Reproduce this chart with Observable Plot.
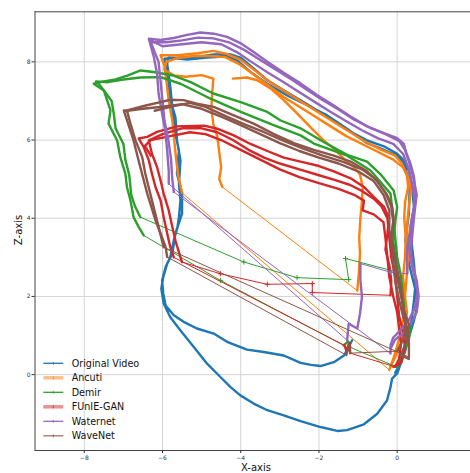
<!DOCTYPE html>
<html><head><meta charset="utf-8">
<script src="https://cdn.jsdelivr.net/npm/d3@7"></script>
<script src="https://cdn.jsdelivr.net/npm/@observablehq/plot@0.6"></script>
<style>body{margin:0;background:#fff;}</style>
</head><body><div id="chart"></div>
<script>
const seriesNames = ["Original Video","Ancuti","Demir","FUnIE-GAN","Waternet","WaveNet"];
const seriesColors = ["#1f77b4","#ff7f0e","#2ca02c","#d62728","#9467bd","#8c564b"];
const xTicks = [-8,-6,-4,-2,0];
const zTicks = [0,2,4,6,8];
const xLimits = [-9.26, 1.875];
const zLimits = [-1.94, 9.28];

// each track: list of densely sampled runs [x, z]; consecutive runs joined by sparse samples
const originalVideo = [[
 [-1.15,0.88],[-1.36,0.49],[-1.62,0.32],[-1.96,0.22],[-2.2,0.25],[-2.47,0.30],[-2.9,0.49],[-3.41,0.58],[-3.84,0.64],[-4.35,0.84],[-4.69,1.05],[-5.12,1.18],[-5.46,1.35],[-5.71,1.52],[-5.92,1.77],[-5.98,2.07],[-6.01,2.41],[-5.92,2.75],[-5.80,3.01],[-5.71,3.44],[-5.62,3.75],[-5.58,4.03],[-5.54,4.46],[-5.58,4.88],[-5.54,5.48],[-5.63,5.99],[-5.67,6.59],[-5.80,7.02],[-5.84,7.44],[-5.92,7.87],[-5.95,8.08],
 [-5.54,8.11],[-5.03,8.14],[-4.69,8.19],[-4.26,8.19],[-4.01,8.11],[-3.67,7.83],[-3.32,7.53],[-2.90,7.27],[-2.47,7.02],[-2.05,6.76],[-1.62,6.50],[-1.19,6.21],[-0.77,5.99],[-0.34,5.84],[0,5.65],[0.17,5.48],[0.30,5.23],[0.38,4.80],[0.43,4.29],[0.34,3.78],[0.38,3.27],[0.43,2.84],[0.47,2.33],[0.43,1.90],[0.38,1.47],[0.30,1.05],[0.21,0.62],[0.09,0.28],[0,0.03],
 [-0.13,-0.10],[-0.17,-0.32],[-0.26,-0.66],[-0.51,-1.00],[-0.85,-1.27],[-1.28,-1.42],[-1.53,-1.44],[-1.96,-1.34],[-2.47,-1.19],[-2.90,-1.04],[-3.32,-0.91],[-3.67,-0.74],[-4.01,-0.53],[-4.26,-0.32],[-4.52,-0.06],[-4.86,0.28],[-5.20,0.71],[-5.54,1.13],[-5.80,1.47],[-5.97,1.82],[-6.03,2.20],[-5.98,2.50],[-5.88,2.84],[-5.75,3.09],
 [-5.67,3.61],[-5.50,4.12],[-5.50,4.63],[-5.63,5.14],[-5.58,5.74],[-5.71,6.33],[-5.75,6.85],[-5.80,7.36],[-5.88,7.95],[-5.84,8.11],
 [-5.37,8.06],[-4.86,8.11],[-4.35,8.14],[-4.09,8.04],[-3.75,7.74],[-3.32,7.44],[-2.81,7.14],[-2.30,6.89],[-1.79,6.63],[-1.28,6.29],[-0.77,5.92],[-0.34,5.75],[0.04,5.57],[0.21,5.31],[0.32,4.80],[0.30,4.12],[0.21,3.44],[0.30,2.84],[0.47,2.16],[0.51,1.73],[0.43,1.39],[0.30,0.96],[0.13,0.54],[0.04,0.20],[-0.05,0.05]
]];

const ancuti = [
 [[-0.17,0.2],[-0.05,0.45],[0.1,0.8],[0.2,1.2],[0.25,1.6],[0.2,2.0],[0.15,2.5],[0.2,3.0],[0.22,3.5],[0.18,4.0],[0.2,4.4],[0.28,4.8],[0.25,5.1],[0.12,5.4],[-0.05,5.6],[-0.4,5.75],[-0.8,5.95],[-1.2,6.2],[-1.6,6.45],[-2.0,6.7],[-2.4,6.95],[-2.8,7.2],[-3.2,7.45],[-3.6,7.75],[-4.0,8.05],[-4.35,8.2],[-4.7,8.28],[-5.1,8.22],[-5.6,8.17],[-6.05,8.17],[-5.95,7.9],[-5.9,7.5],[-5.84,7.0],[-5.75,6.5],[-5.7,6.0],[-5.65,5.5],[-5.6,5.1],[-5.5,4.65]],
 [[-0.2,0.12],[-0.1,0.4],[0.05,0.9],[0.15,1.4],[0.2,2.0],[0.25,2.6],[0.3,3.2],[0.25,3.8],[0.3,4.3],[0.35,4.7],[0.3,5.0],[0.15,5.3],[-0.1,5.5],[-0.5,5.7],[-0.9,5.9],[-1.3,6.1],[-1.7,6.35],[-2.1,6.6],[-2.5,6.85],[-2.9,7.1],[-3.3,7.4],[-3.7,7.7],[-4.05,7.95],[-4.4,8.12],[-4.8,8.15],[-5.2,8.15],[-5.6,8.1],[-5.9,8.0],[-5.95,7.8],[-5.7,7.65],[-5.4,7.62],[-5.0,7.66],[-4.7,7.57],[-4.73,7.2],[-4.75,6.8],[-4.7,6.4],[-4.6,6.1],[-4.55,5.7],[-4.5,5.3],[-4.55,5.0],[-4.47,4.8]],
 [[-1.02,2.15],[-0.98,2.6],[-0.95,3.1],[-0.97,3.5],[-0.94,4.0],[-0.9,4.45],[-0.88,4.8],[-0.95,5.12],[-1.11,5.31],[-1.36,5.52],[-1.62,5.78],[-1.88,5.99],[-2.22,6.33],[-2.56,6.68],[-2.9,7.02],[-3.24,7.32],[-3.58,7.53],[-3.84,7.6],[-4.2,7.57]]
];

const demir = [
 [[0.35,1.3],[0.3,0.9],[0.15,0.5],[0.0,0.19]],
 [[-1.2,0.7],[-1.25,0.85],[-1.37,0.75]],
 [[-4.52,2.41]],
 [[-6.48,3.56],[-6.61,3.78],[-6.74,4.03],[-6.82,4.46],[-6.91,4.8],[-6.95,5.14],[-7.08,5.57],[-7.16,5.99],[-7.38,6.42],[-7.33,6.76],[-7.5,7.27],[-7.76,7.44],[-7.5,7.5],[-7.2,7.55],[-6.9,7.65],[-6.56,7.78],[-6.23,7.74],[-5.72,7.65],[-5.28,7.48],[-4.7,7.19],[-4.0,6.97],[-3.32,6.72],[-2.98,6.5],[-2.47,6.3],[-1.88,5.95],[-1.28,5.62],[-0.77,5.45],[-0.43,5.13],[-0.09,4.71],[0,4.29],[-0.05,3.9],[-0.1,3.4],[-0.05,3.0],[0.0,2.5]],
 [[-0.17,2.67]],[[-1.32,2.97]],[[-1.24,2.43]],[[-2.56,2.48]],[[-3.92,2.88]],
 [[-6.57,4.03],[-6.7,4.3],[-6.8,4.6],[-6.85,5.1],[-6.95,5.5],[-7.0,5.9],[-7.2,6.3],[-7.25,6.7],[-7.3,7.0],[-7.6,7.4],[-7.7,7.5],[-7.4,7.48],[-7.0,7.55],[-6.56,7.6],[-6.05,7.61],[-5.54,7.44],[-4.86,7.1],[-4.0,6.72],[-3.16,6.38],[-2.47,6.12],[-2.13,5.91],[-1.28,5.6],[-0.68,5.22],[-0.17,4.63],[-0.1,4.0],[-0.05,3.5],[0.0,3.0],[0.1,2.5],[0.15,2.0],[0.2,1.5],[0.25,1.1],[0.2,0.7],[0.1,0.3]]
];

const funieGan = [
 [[-6.3,5.6],[-6.45,5.85],[-6.3,6.0],[-5.8,6.1],[-5.3,6.2],[-4.9,6.15],[-4.5,6.0],[-4.0,5.75],[-3.5,5.5],[-3.0,5.25],[-2.5,5.05],[-2.0,4.9],[-1.5,4.75],[-1.1,4.6],[-0.85,4.45],[-0.88,4.2],[-0.6,4.1],[-0.35,3.9],[-0.3,3.5],[-0.25,3.0],[-0.2,2.5],[-0.1,2.0],[0.0,1.6],[0.05,1.2],[0.1,0.8],[0.05,0.4],[-0.05,0.2]],
 [[-1.2,0.55],[-1.22,0.8],[-1.3,0.62],[-1.35,0.75]],
 [[-5.71,3.0],[-5.8,3.26],[-5.88,3.61],[-5.97,4.03],[-6.05,4.46],[-6.18,4.8],[-6.27,5.14],[-6.35,5.48],[-6.48,5.82],[-6.61,6.04],[-6.39,6.08],[-6.14,6.21],[-5.63,6.35],[-4.94,6.37],[-4.6,6.29],[-4.18,6.12],[-3.75,5.9],[-3.32,5.72],[-2.9,5.55],[-2.47,5.45],[-2.05,5.35],[-1.62,5.2],[-1.19,5.02],[-0.85,4.8],[-0.6,4.55],[-0.34,4.3],[-0.21,4.0],[-0.25,3.6],[-0.3,3.2],[-0.2,2.8],[-0.15,2.4],[-0.17,2.03]],
 [[-2.17,2.1]],[[-2.17,2.33]],[[-3.32,2.31]],[[-4.52,2.58]],
 [[-5.5,2.88],[-5.54,3.0],[-5.67,3.43],[-5.75,3.78],[-5.84,4.2],[-5.97,4.63],[-6.05,4.97],[-6.14,5.31],[-6.27,5.65],[-6.35,5.99],[-6.0,6.15],[-5.5,6.3],[-5.0,6.3],[-4.6,6.2],[-4.2,6.0],[-3.8,5.75],[-3.4,5.55],[-3.0,5.4],[-2.5,5.25],[-2.0,5.1],[-1.6,4.98],[-1.2,4.85],[-0.9,4.7],[-0.6,4.5],[-0.4,4.3],[-0.25,4.0],[-0.2,3.5],[-0.15,3.0],[-0.05,2.5],[0.0,2.0],[0.05,1.5],[0.15,1.1],[0.2,0.7],[0.1,0.3],[-0.1,0.2]]
];

const waternet = [
 [[-6.3,8.55],[-6.0,8.4],[-5.5,8.45],[-5.0,8.5],[-4.5,8.45],[-4.1,8.25],[-3.7,7.98],[-3.3,7.72],[-2.9,7.48],[-2.5,7.22],[-2.1,6.97],[-1.7,6.72],[-1.3,6.48],[-0.9,6.25],[-0.5,6.05],[-0.1,5.9],[0.15,5.65],[0.3,5.25],[0.4,4.8],[0.45,4.4],[0.4,3.9],[0.3,3.5],[0.25,3.1],[0.26,2.58]],
 [[-0.17,2.62]],
 [[-0.94,2.84],[-0.94,2.41],[-0.9,1.99],[-0.95,1.56],[-1.02,1.18],[-1.24,1.30],[-1.28,0.88]],
 [[-5.84,4.88],[-5.84,5.2],[-5.88,5.73],[-5.93,6.25],[-6.01,6.68],[-6.1,7.19],[-6.14,7.70],[-6.22,8.12],[-6.35,8.59],[-6.05,8.56],[-5.71,8.61],[-5.37,8.69],[-5.03,8.75],[-4.69,8.72],[-4.35,8.64],[-4.01,8.48],[-3.67,8.25],[-3.32,8.0],[-2.9,7.72],[-2.47,7.45],[-2.05,7.15],[-1.62,6.88],[-1.19,6.6],[-0.77,6.35],[-0.34,6.18],[0,6.05],[0.17,5.9],[0.24,5.65],[0.34,5.4],[0.43,5.06],[0.47,4.63],[0.43,4.29],[0.35,3.8],[0.3,3.3],[0.35,2.9],[0.45,2.5],[0.52,2.1],[0.45,1.7],[0.3,1.4],[0.1,1.15],[-0.1,0.95],[-0.17,0.75],[-0.17,0.54]],
 [[-5.71,4.67],[-5.75,5.0],[-5.78,5.5],[-5.85,6.0],[-5.95,6.5],[-6.0,7.0],[-6.05,7.5],[-6.1,8.0],[-6.3,8.5],[-5.9,8.5],[-5.5,8.55],[-5.1,8.62],[-4.7,8.6],[-4.3,8.5],[-3.9,8.3],[-3.5,8.05],[-3.1,7.8],[-2.7,7.55],[-2.3,7.28],[-1.9,7.02],[-1.5,6.78],[-1.1,6.52],[-0.7,6.32],[-0.3,6.15],[0.05,5.98],[0.2,5.75],[0.3,5.45],[0.4,5.1],[0.5,4.6],[0.45,4.2],[0.4,3.7],[0.35,3.2],[0.4,2.8],[0.5,2.4],[0.55,2.0],[0.5,1.6],[0.35,1.3],[0.15,1.05],[-0.05,0.9],[-0.15,0.7]]
];

const wavenet = [
 [[-6.2,6.75],[-5.8,6.85],[-5.3,6.95],[-4.9,6.85],[-4.4,6.62],[-3.9,6.4],[-3.4,6.2],[-2.9,5.98],[-2.4,5.78],[-1.9,5.6],[-1.4,5.45],[-0.9,5.25],[-0.55,5.0],[-0.3,4.65],[-0.15,4.3],[-0.1,3.9],[-0.15,3.4],[-0.1,2.9],[-0.05,2.4],[0.05,1.9],[0.15,1.5],[0.25,1.2],[0.3,0.8],[0.3,0.45]],
 [[-5.97,3.26],[-6.1,3.78],[-6.27,4.46],[-6.44,5.14],[-6.52,5.57],[-6.69,5.99],[-6.82,6.42],[-6.91,6.76],[-6.74,6.8],[-6.4,6.89],[-6.05,6.97],[-5.8,7.03],[-5.46,7.02],[-5.12,6.93],[-4.69,6.85],[-4.18,6.63],[-3.67,6.42],[-3.15,6.15],[-2.64,5.92],[-2.13,5.75],[-1.62,5.6],[-1.19,5.45],[-0.77,5.2],[-0.51,4.95],[-0.26,4.6],[-0.13,4.3],[-0.09,4.0],[-0.15,3.5],[-0.05,3.0],[0.0,2.5],[0.1,2.0],[0.2,1.5],[0.2,1.0],[0.0,0.6]],
 [[-1.2,0.55],[-1.25,0.75],[-1.3,0.5]],
 [[-5.88,3.01],[-5.92,3.26],[-6.05,3.61],[-6.18,3.95],[-6.39,4.63],[-6.61,5.47],[-6.74,5.99],[-6.99,6.76],[-6.9,6.75],[-6.5,6.8],[-6.0,6.85],[-5.5,6.92],[-5.0,6.8],[-4.5,6.6],[-4.0,6.38],[-3.5,6.15],[-3.0,5.92],[-2.5,5.72],[-2.0,5.55],[-1.5,5.4],[-1.0,5.2],[-0.6,4.95],[-0.35,4.6],[-0.2,4.2],[-0.2,3.7],[-0.1,3.2],[0.0,2.7],[0.1,2.2],[0.15,1.7],[0.3,1.3],[0.25,0.9],[0.1,0.5],[0.3,0.4]]
];

const tracks = [originalVideo, ancuti, demir, funieGan, waternet, wavenet];

const marks = [
  Plot.gridX(xTicks, {stroke: "#d4d4d4", strokeOpacity: 1, strokeWidth: 1}),
  Plot.gridY(zTicks, {stroke: "#d4d4d4", strokeOpacity: 1, strokeWidth: 1})
];

tracks.forEach((runs, si) => {
  const name = seriesNames[si];
  const all = [], dense = [], sparse = [];
  runs.forEach((run, ri) => {
    run.forEach(([x, z]) => {
      all.push({name, x, z});
      if (run.length > 1) dense.push({name, run: ri, x, z});
    });
    if (run.length === 1) sparse.push({name, x: run[0][0], z: run[0][1]});
  });
  marks.push(Plot.line(all, {x: "x", y: "z", stroke: "name", strokeWidth: 1}));
  marks.push(Plot.line(dense, {x: "x", y: "z", z: "run", stroke: "name", strokeWidth: 2.4, strokeLinejoin: "round", strokeLinecap: "round"}));
  marks.push(Plot.dot(sparse, {x: "x", y: "z", stroke: "name", symbol: "plus", r: 1.8, strokeWidth: 1}));
});

marks.push(
  Plot.ruleX([xLimits[0]], {stroke: "#444", strokeWidth: 1}),
  Plot.ruleY([zLimits[1]], {stroke: "#444", strokeWidth: 1}),
  Plot.ruleY([zLimits[0]], {stroke: "#444", strokeWidth: 1}),
  Plot.axisX(xTicks, {tickSize: 3, tickPadding: 2, fontSize: 6, label: null, stroke: "#333", fill: "#333"}),
  Plot.axisY(zTicks, {tickSize: 3, tickPadding: 1.5, fontSize: 6, label: null, stroke: "#333", fill: "#333"})
);

const plot = Plot.plot({
  width: 470, height: 473,
  marginLeft: 34.5, marginRight: 0, marginTop: 11.3, marginBottom: 23,
  x: {domain: xLimits},
  y: {domain: zLimits},
  color: {domain: seriesNames, range: seriesColors},
  style: {fontFamily: "DejaVu Sans", background: "white"},
  marks
});
document.getElementById("chart").append(plot);

const svg = d3.select(plot);
svg.append("text").attr("x", 256).attr("y", 471).attr("text-anchor", "middle")
  .attr("font-family", "DejaVu Sans").attr("font-size", 10).attr("fill", "#111").text("X-axis");
svg.append("text").attr("transform", "translate(21.5,230) rotate(-90)").attr("text-anchor", "middle")
  .attr("font-family", "DejaVu Sans").attr("font-size", 10).attr("fill", "#111").text("Z-axis");

const legendWidth = [1.3, 3.5, 1.3, 3.5, 1.3, 1.3];
const legendOpacity = [1, 0.5, 1, 0.5, 1, 0.85];
const lg = svg.append("g").attr("font-family", "DejaVu Sans").attr("font-size", 9.6).attr("text-anchor", "start");
seriesNames.forEach((n, i) => {
  const y = 363.3 + i * 14.5;
  lg.append("line").attr("x1", 43.3).attr("x2", 63.3).attr("y1", y).attr("y2", y)
    .attr("stroke", seriesColors[i]).attr("stroke-width", legendWidth[i]).attr("stroke-opacity", legendOpacity[i]);
  lg.append("line").attr("x1", 53.3).attr("x2", 53.3).attr("y1", y - 1.5).attr("y2", y + 1.5)
    .attr("stroke", seriesColors[i]).attr("stroke-width", 0.8);
  lg.append("text").attr("x", 71.7).attr("y", y).attr("dy", "0.35em").attr("text-anchor", "start").attr("fill", "#111").text(n);
});
</script>
</body></html>
